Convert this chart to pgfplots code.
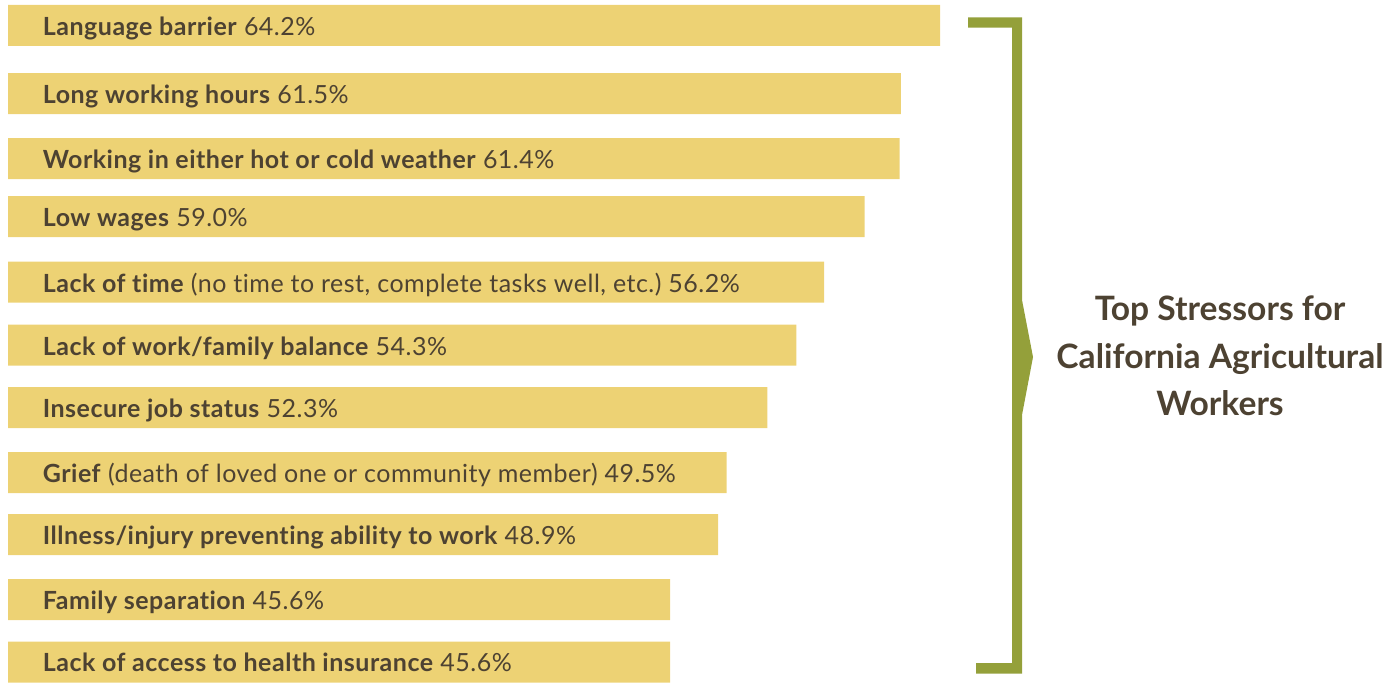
\documentclass[border=0pt]{standalone}
\usepackage{fontspec}
\setmainfont{Lato}[Ligatures=NoCommon]
\newfontfamily\lblfont{Lato}[Ligatures=NoCommon, LetterSpace=2]
\usepackage{pgfplots}
\pgfplotsset{compat=1.18}
\definecolor{barc}{HTML}{EDD274}
\definecolor{txt}{HTML}{4D4232}
\definecolor{brk}{HTML}{94A03A}
\frenchspacing
\begin{document}
\begin{tikzpicture}
\path[use as bounding box] (0,0) rectangle (700pt,341pt);
\begin{axis}[
  at={(0,0)}, anchor=south west,
  scale only axis, width=700pt, height=341pt,
  xbar, bar width=20.5pt, bar shift=0pt,
  xmin=-0.551, xmax=95.87,
  ymin=0, ymax=682, y dir=reverse,
  axis lines=none, ticks=none,
  clip=false,
]
\addplot[fill=barc, draw=none] coordinates {
(64.2,25.4) (61.5,93.5) (61.4,158.5) (59.0,216.5) (56.2,282)
(54.3,345) (52.3,407.5) (49.5,472.5) (48.9,534.5) (45.6,599.5) (45.6,662)
};
\end{axis}
\begin{scope}[x=0.5pt,y=-0.5pt,yshift=341pt]
\fill[brk] (968,17.3) -- (1022,17.3) -- (1022,300) -- (1033,357) -- (1022,415)
  -- (1022,673.7) -- (976,673.7) -- (976,663) -- (1012,663) -- (1012,27.7)
  -- (968,27.7) -- cycle;
\begin{scope}[every node/.style={anchor=base west, inner sep=0pt, text=txt, font=\lblfont\fontsize{12.5}{14}\selectfont}]
\node at (42.5,35.7) {\textbf{Language barrier} 64.2\%};
\node at (42.5,103.5) {\textbf{Long working hours} 61.5\%};
\node at (42.5,168.5) {\textbf{Working in either hot or cold weather} 61.4\%};
\node at (42.5,226.5) {\textbf{Low wages} 59.0\%};
\node at (42.5,292) {\textbf{Lack of time} (no time to rest, complete tasks well, etc.)\ 56.2\%};
\node at (42.5,355) {\textbf{Lack of work/family balance} 54.3\%};
\node at (42.5,417.5) {\textbf{Insecure job status} 52.3\%};
\node at (42.5,482.5) {\textbf{Grief} (death of loved one or community member) 49.5\%};
\node at (42.5,544.5) {\textbf{Illness/injury preventing ability to work} 48.9\%};
\node at (42.5,609.5) {\textbf{Family separation} 45.6\%};
\node at (42.5,671.7) {\textbf{Lack of access to health insurance} 45.6\%};
\end{scope}
\begin{scope}[every node/.style={anchor=base, inner sep=0pt, text=txt, font=\fontsize{16.8}{19}\selectfont\bfseries}]
\node at (1220,320) {Top Stressors for};
\node at (1220,368) {California Agricultural};
\node at (1220,415) {Workers};
\end{scope}
\end{scope}
\end{tikzpicture}
\end{document}
